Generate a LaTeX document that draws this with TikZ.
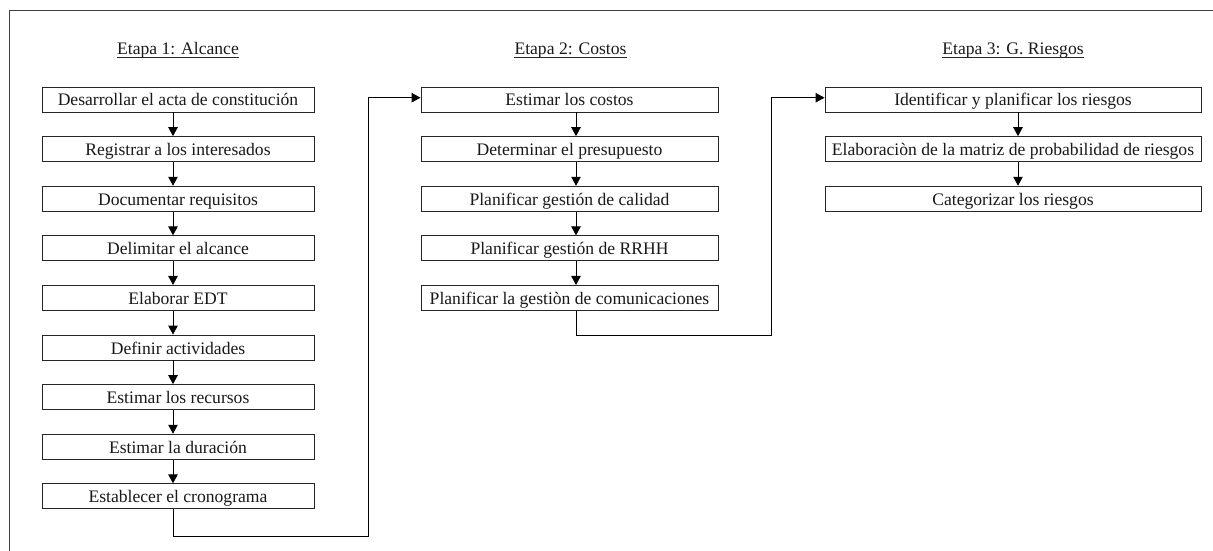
\documentclass[tikz,border=0pt]{standalone}
\usepackage{fontspec}
\setmainfont{Liberation Serif}
\usetikzlibrary{arrows.meta,calc}
\begin{document}
\begin{tikzpicture}[x=1pt,y=-1pt,
  every node/.style={font=\fontsize{17.6}{20}\selectfont, text=black!90},
  stepbox/.style={draw=black!85, line width=0.9pt, fill=white, inner sep=0pt,
                  minimum height=25pt, text height=17pt, text depth=4pt, anchor=center},
  colA/.style={stepbox, minimum width=272pt},
  colB/.style={stepbox, minimum width=297pt},
  colC/.style={stepbox, minimum width=376pt},
  title/.style={anchor=base, inner sep=0pt},
  uline/.style={draw=black!85, line width=0.8pt},
  arr/.style={draw=black, line width=0.9pt, -{Triangle[width=9.5pt,length=9pt]}},
  frame/.style={draw=black!75, line width=1pt}]
  \useasboundingbox (0,0) rectangle (1213,551);

  % outer frame (top and left edges)
  \draw[frame] (1213,11) -- (9,11) -- (9,551);

  % stage titles
  \node[title] (tA) at (178,55) {Etapa 1: Alcance};
  \node[title] (tB) at (570.5,55) {Etapa 2: Costos};
  \node[title] (tC) at (1013,55) {Etapa 3: G. Riesgos};
  \foreach \t in {tA,tB,tC}
    \draw[uline] ($(\t.base west)+(0,2.8)$) -- ($(\t.base east)+(0,2.8)$);

  % stage 1: scope
  \node[colA] (a1) at (178, 99.5) {Desarrollar el acta de constitución};
  \node[colA] (a2) at (178,149.1) {Registrar a los interesados};
  \node[colA] (a3) at (178,198.7) {Documentar requisitos};
  \node[colA] (a4) at (178,248.3) {Delimitar el alcance};
  \node[colA] (a5) at (178,297.9) {Elaborar EDT};
  \node[colA] (a6) at (178,347.5) {Definir actividades};
  \node[colA] (a7) at (178,397.1) {Estimar los recursos};
  \node[colA] (a8) at (178,446.7) {Estimar la duración};
  \node[colA] (a9) at (178,496.3) {Establecer el cronograma};

  % stage 2: costs
  \node[colB] (b1) at (569.5, 99.5) {Estimar los costos};
  \node[colB] (b2) at (569.5,149.1) {Determinar el presupuesto};
  \node[colB] (b3) at (569.5,198.7) {Planificar gestión de calidad};
  \node[colB] (b4) at (569.5,248.3) {Planificar gestión de RRHH};
  \node[colB] (b5) at (569.5,297.9) {Planificar la gestiòn de comunicaciones};

  % stage 3: risk management
  \node[colC] (c1) at (1013, 99.5) {Identificar y planificar los riesgos};
  \node[colC] (c2) at (1013,149.1) {Elaboraciòn de la matriz de probabilidad de riesgos};
  \node[colC] (c3) at (1013,198.7) {Categorizar los riesgos};

  % vertical lines of the arrows in each column
  \coordinate (ax) at (173,0);
  \coordinate (bx) at (576,0);
  \coordinate (cx) at (1018,0);

  \foreach \i/\j in {1/2,2/3,3/4,4/5,5/6,6/7,7/8,8/9}
    \draw[arr] (a\i.south -| ax) -- (a\j.north -| ax);
  \foreach \i/\j in {1/2,2/3,3/4,4/5}
    \draw[arr] (b\i.south -| bx) -- (b\j.north -| bx);
  \foreach \i/\j in {1/2,2/3}
    \draw[arr] (c\i.south -| cx) -- (c\j.north -| cx);

  % links between stages
  \coordinate (k1) at (368,536);
  \coordinate (k2) at (771,335);
  \draw[arr] (a9.south -| ax) |- (k1) |- ($(b1.west)+(0,-1.8)$);
  \draw[arr] (b5.south -| bx) |- (k2) |- ($(c1.west)+(0,-1.8)$);
\end{tikzpicture}
\end{document}
